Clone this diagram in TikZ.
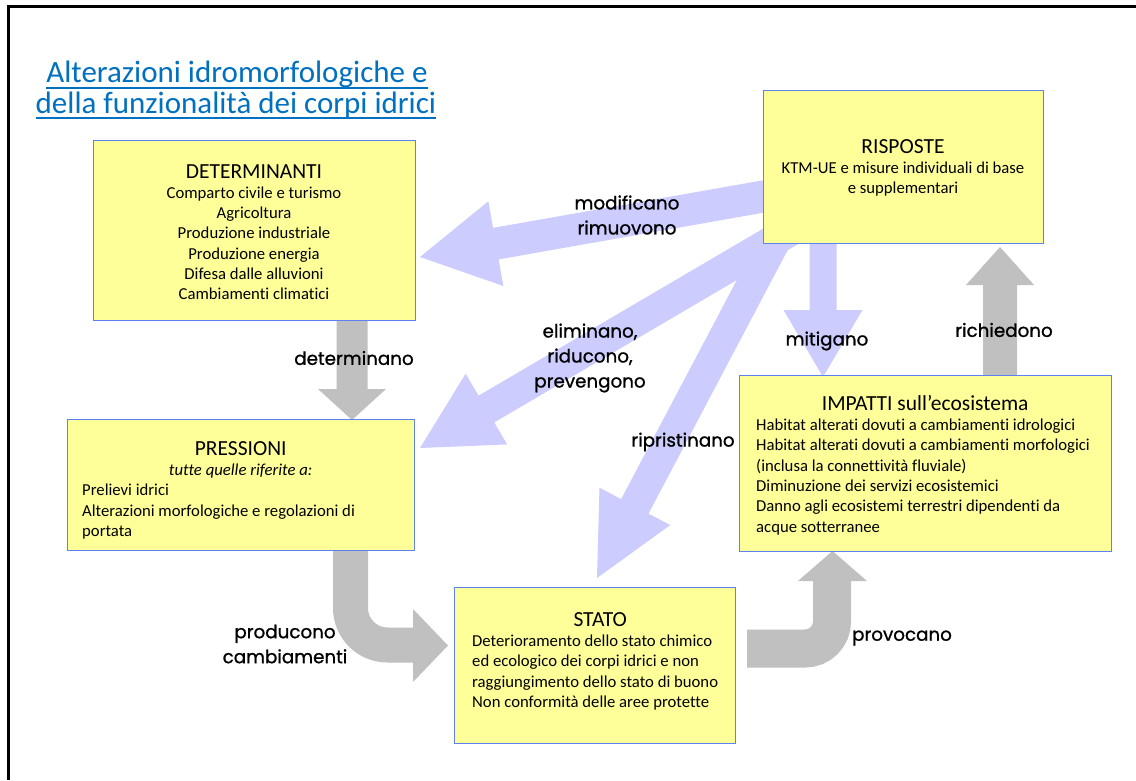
\documentclass[tikz,border=0pt]{standalone}
\usepackage{fontspec}
\setmainfont{Carlito}[Ligatures=NoCommon]
\newfontfamily\lblfont{Poppins}[FakeBold=1]
\usetikzlibrary{calc}
\definecolor{boxfill}{HTML}{FFFF99}
\definecolor{boxline}{HTML}{5B82F0}
\definecolor{blu}{HTML}{CCCCFF}
\definecolor{gry}{HTML}{C0C0C0}
\definecolor{ttl}{HTML}{0070C0}
\newcommand{\ttlf}{\fontsize{21.5}{20.3}\selectfont}
\newcommand{\bodyf}{\fontsize{16.7}{20.3}\selectfont}
\newcommand{\ctrline}[1]{\hspace*{\fill}{#1}\hspace*{\fill}\mbox{}}
\newcommand{\fatarr}[6]{%
  \coordinate (fa-h) at ($(#3)!#6!(#2)$);
  \fill[#1] ($(#2)!#4!90:(#3)$) -- ($(fa-h)!#4!90:(#3)$) -- ($(fa-h)!#5!90:(#3)$) -- (#3)
    -- ($(fa-h)!#5!-90:(#3)$) -- ($(fa-h)!#4!-90:(#3)$) -- ($(#2)!#4!-90:(#3)$) -- cycle;
}
\tikzset{
  ybox/.style={draw=boxline, fill=boxfill, line width=1.4pt, inner sep=0, anchor=north west},
  txt/.style={inner sep=0, font=\bodyf, text=black},
  lbl/.style={inner sep=0, font=\lblfont\fontsize{18.3}{25}\selectfont, align=center, text=black},
}
\begin{document}
\begin{tikzpicture}[x=1pt,y=-1pt]
\useasboundingbox (0,0) rectangle (1136,780);
\fill[white] (0,0) rectangle (1136,780);
% frame
\draw[line width=3pt] (8.5,780) -- (8.5,6) -- (1136,6);

% connector end points
\coordinate (modA) at (800,190);  \coordinate (modB) at (420,257);
\coordinate (eliA) at (800,225);  \coordinate (eliB) at (420,448);
\coordinate (ripA) at (785,222);  \coordinate (ripB) at (597,578);
\coordinate (mitA) at (823,230);  \coordinate (mitB) at (823,377);
\coordinate (ricA) at (1000,380); \coordinate (ricB) at (1000,247);
\coordinate (detA) at (352,315);  \coordinate (detB) at (352,420);

% blue arrows
\fatarr{blu}{modA}{modB}{16pt}{43pt}{77pt}
\fatarr{blu}{eliA}{eliB}{15.5pt}{41pt}{77pt}
\fatarr{blu}{ripA}{ripB}{15.5pt}{40pt}{81pt}
\fatarr{blu}{mitA}{mitB}{13.5pt}{39.5pt}{67pt}
% gray arrows
\fatarr{gry}{ricA}{ricB}{17pt}{34pt}{38pt}
\fatarr{gry}{detA}{detB}{15.5pt}{34pt}{31pt}
% producono (curved)
\draw[gry, line width=35pt, rounded corners=37pt] (350.5,545) -- (350.5,645) -- (415,645);
\fill[gry] (413,609) -- (448,645.5) -- (413,682) -- cycle;
% provocano (curved)
\draw[gry, line width=38pt, rounded corners=27pt] (747,648.5) -- (832,648.5) -- (832,578);
\fill[gry] (798,581) -- (832.5,551) -- (867,581) -- cycle;

% boxes
\node[ybox, minimum width=322pt, minimum height=180pt] (det) at (93,140) {};
\node[ybox, minimum width=280pt, minimum height=153pt] (ris) at (763,90) {};
\node[ybox, minimum width=347pt, minimum height=131pt] (pre) at (67,419) {};
\node[ybox, minimum width=372pt, minimum height=176pt] (imp) at (739,375) {};
\node[ybox, minimum width=281pt, minimum height=156pt] (sta) at (454,587) {};

% box texts
\node[txt, align=center, anchor=north] (detT) at (254,164) {{\ttlf DETERMINANTI}\\ Comparto civile e turismo\\ Agricoltura\\ Produzione industriale\\ Produzione energia\\ Difesa dalle alluvioni\\ Cambiamenti climatici};
\node[txt, align=center, anchor=north] (risT) at (903,139) {{\ttlf RISPOSTE}\\ KTM-UE e misure individuali di base\\ e supplementari};
\node[txt, text width=317pt, align=flush left, anchor=north west] (preT) at (82,441) {\ctrline{\ttlf PRESSIONI}\\ \ctrline{\textit{tutte quelle riferite a:}}\\ Prelievi idrici\\ Alterazioni morfologiche e regolazioni di\\ portata};
\node[txt, text width=338pt, align=flush left, anchor=north west] (impT) at (756,395) {\ctrline{\ttlf IMPATTI sull’ecosistema}\\ Habitat alterati dovuti a cambiamenti idrologici\\ Habitat alterati dovuti a cambiamenti morfologici\\ (inclusa la connettività fluviale)\\ Diminuzione dei servizi ecosistemici\\ Danno agli ecosistemi terrestri dipendenti da\\ acque sotterranee};
\node[txt, text width=256pt, align=flush left, anchor=north west] (staT) at (472,612) {\ctrline{\ttlf STATO}\\ Deterioramento dello stato chimico\\ ed ecologico dei corpi idrici e non\\ raggiungimento dello stato di buono\\ Non conformità delle aree protette};

% title
\node[inner sep=0, anchor=base, text=ttl, font=\fontsize{31}{32}\selectfont] (t1) at (237,82) {Alterazioni idromorfologiche e};
\node[inner sep=0, anchor=base, text=ttl, font=\fontsize{31}{32}\selectfont] (t2) at (236,113) {della funzionalità dei corpi idrici};
\draw[ttl, line width=1.8pt] ([yshift=-6pt]t1.base west) -- ([yshift=-6pt]t1.base east);
\draw[ttl, line width=1.8pt] ([yshift=-5pt]t2.base west) -- ([yshift=-5pt]t2.base east);

% connector labels
\node[lbl] (lmod) at (627,215) {modificano\\ rimuovono};
\node[lbl] (leli) at (590,358) {eliminano,\\ riducono,\\ prevengono};
\node[lbl] (lrip) at (683,442) {ripristinano};
\node[lbl] (lmit) at (827,341) {mitigano};
\node[lbl] (lric) at (1004,330) {richiedono};
\node[lbl] (ldet) at (354,358) {determinano};
\node[lbl] (lpro) at (285,644) {producono\\ cambiamenti};
\node[lbl] (lprv) at (902,638) {provocano};
\end{tikzpicture}
\end{document}
